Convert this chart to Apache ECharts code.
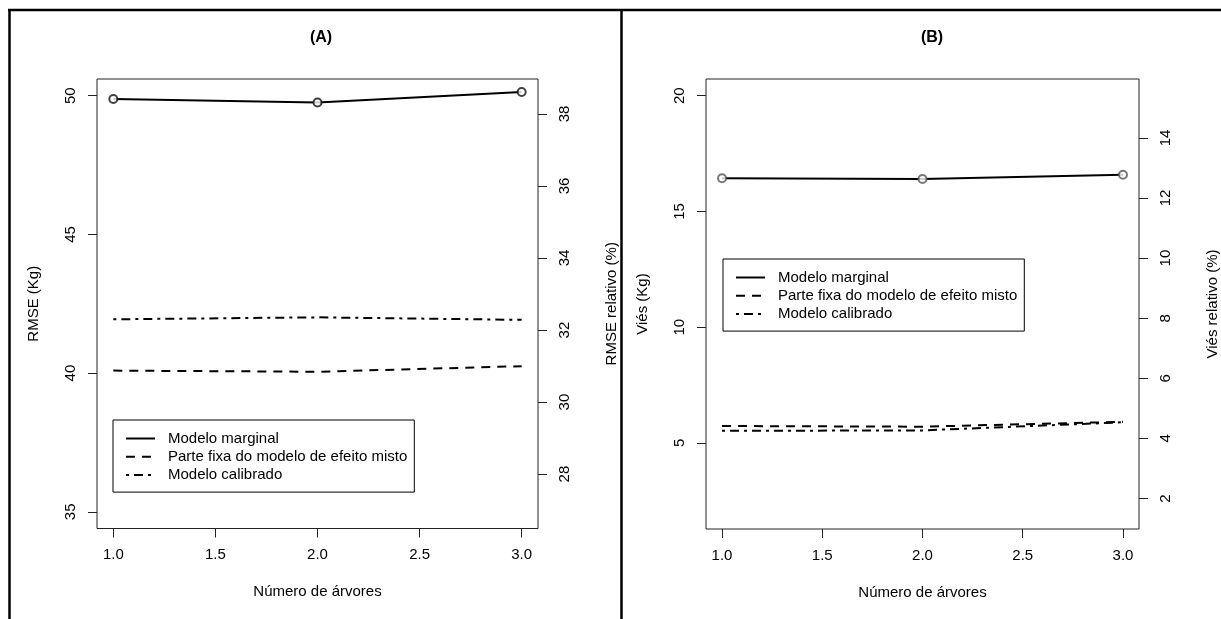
<!DOCTYPE html>
<html>
<head>
<meta charset="utf-8">
<script src="https://cdn.jsdelivr.net/npm/echarts@6/dist/echarts.min.js"></script>
<style>
html, body { margin: 0; padding: 0; background: #fff; }
#chart { width: 1221px; height: 619px; }
</style>
</head>
<body>
<div id="chart"></div>
<script>
// dados
var arvores = [1, 2, 3];
var xTicks = [1, 1.5, 2, 2.5, 3];

var rmseMarginal = [49.88, 49.75, 50.13];
var rmseFixa = [40.09, 40.05, 40.25];
var rmseCalibrado = [41.94, 42.01, 41.92];
var rmseTicks = [35, 40, 45, 50];
var rmseRelTicks = [28, 30, 32, 34, 36, 38];

var viesMarginal = [16.43, 16.40, 16.58];
var viesFixa = [5.73, 5.70, 5.91];
var viesCalibrado = [5.52, 5.54, 5.89];
var viesTicks = [5, 10, 15, 20];
var viesRelTicks = [2, 4, 6, 8, 10, 12, 14];

var nomes = ['Modelo marginal', 'Parte fixa do modelo de efeito misto', 'Modelo calibrado'];

var font = "'Liberation Sans', Arial, sans-serif";
var myChart = echarts.init(document.getElementById('chart'));

function pares(vals) {
	return arvores.map(function(x, i) { return [x, vals[i]]; });
}

function eixoX(g) {
	return {
		type: 'value', gridIndex: g, min: 0.92, max: 3.08,
		name: 'Número de árvores', nameLocation: 'middle', nameGap: 56,
		nameTextStyle: { fontSize: 15, color: '#000', fontFamily: font },
		axisLine: { show: false, onZero: false },
		axisTick: { show: true, length: 9, customValues: xTicks, lineStyle: { color: '#222' } },
		axisLabel: {
			customValues: xTicks, margin: 19, fontSize: 15, color: '#000', fontFamily: font,
			formatter: function(v) { return v.toFixed(1); }
		},
		splitLine: { show: false }
	};
}

function eixoY(g, pos, min, max, ticks, nome, gap) {
	return {
		type: 'value', gridIndex: g, position: pos, min: min, max: max,
		name: nome, nameLocation: 'middle', nameGap: gap, nameRotate: 90,
		nameTextStyle: { fontSize: 15, color: '#000', fontFamily: font },
		axisLine: { show: false },
		axisTick: { show: true, length: 9, customValues: ticks, lineStyle: { color: '#222' } },
		axisLabel: { customValues: ticks, rotate: 90, margin: 19, fontSize: 15, color: '#000', fontFamily: font },
		splitLine: { show: false }
	};
}

function linhas(xi, yi, marg, fixa, calib, corPts) {
	return [{
		name: nomes[0], type: 'line', xAxisIndex: xi, yAxisIndex: yi,
		data: pares(marg), symbol: 'none', legendIcon: 'none',
		lineStyle: { color: '#000', width: 2 }, itemStyle: { color: '#000' }
	}, {
		name: nomes[1], type: 'line', xAxisIndex: xi, yAxisIndex: yi,
		data: pares(fixa), symbol: 'none', legendIcon: 'none',
		lineStyle: { color: '#000', width: 2, type: [9, 7] }, itemStyle: { color: '#000' }
	}, {
		name: nomes[2], type: 'line', xAxisIndex: xi, yAxisIndex: yi,
		data: pares(calib), symbol: 'none', legendIcon: 'none',
		lineStyle: { color: '#000', width: 2, type: [3, 5, 9, 5] }, itemStyle: { color: '#000' }
	}, {
		name: 'pontos', type: 'scatter', xAxisIndex: xi, yAxisIndex: yi,
		data: pares(marg), symbol: 'emptyCircle', symbolSize: 8, z: 5,
		itemStyle: { color: corPts, borderColor: corPts, borderWidth: 1.5 }
	}];
}

function legenda(left, top) {
	return {
		orient: 'vertical', left: left, top: top, data: nomes, selectedMode: false,
		padding: [11, 7, 9.5, 12], itemWidth: 29, itemHeight: 15, itemGap: 3.3,
		borderColor: '#000', borderWidth: 1, backgroundColor: '#fff',
		itemStyle: { opacity: 0 },
		textStyle: { fontSize: 15, lineHeight: 15, color: '#000', fontFamily: font, padding: [0, 0, 0, 8] }
	};
}

var option = {
	animation: false,
	backgroundColor: '#fff',
	title: [
		{ text: '(A)', left: 316, top: 25, textAlign: 'center', textStyle: { fontSize: 16, fontWeight: 'bold', color: '#000', fontFamily: font } },
		{ text: '(B)', left: 927, top: 25, textAlign: 'center', textStyle: { fontSize: 16, fontWeight: 'bold', color: '#000', fontFamily: font } }
	],
	grid: [
		{ left: 97, top: 79, width: 441, height: 449.5, show: true, borderColor: '#222', borderWidth: 1, backgroundColor: 'transparent' },
		{ left: 706, top: 79, width: 442, height: 450, show: true, borderColor: '#222', borderWidth: 1, backgroundColor: 'transparent' }
	],
	xAxis: [eixoX(0), eixoX(1)],
	yAxis: [
		eixoY(0, 'left', 34.4, 50.6, rmseTicks, 'RMSE (Kg)', 56),
		eixoY(0, 'right', 26.49, 38.97, rmseRelTicks, 'RMSE relativo (%)', 66),
		eixoY(1, 'left', 1.28, 20.72, viesTicks, 'Viés (Kg)', 56),
		eixoY(1, 'right', 0.986, 15.96, viesRelTicks, 'Viés relativo (%)', 66)
	],
	legend: [legenda(113, 420), legenda(723, 259)],
	series: linhas(0, 0, rmseMarginal, rmseFixa, rmseCalibrado, '#111')
		.concat(linhas(1, 2, viesMarginal, viesFixa, viesCalibrado, '#555')),
	graphic: [
		{ type: 'line', shape: { x1: 8, y1: 10, x2: 1221, y2: 10 }, style: { stroke: '#000', lineWidth: 2.5 } },
		{ type: 'line', shape: { x1: 9.5, y1: 9, x2: 9.5, y2: 619 }, style: { stroke: '#000', lineWidth: 2.5 } },
		{ type: 'line', shape: { x1: 621.5, y1: 9, x2: 621.5, y2: 619 }, style: { stroke: '#000', lineWidth: 2.5 } }
	]
};

myChart.setOption(option);
</script>
</body>
</html>
